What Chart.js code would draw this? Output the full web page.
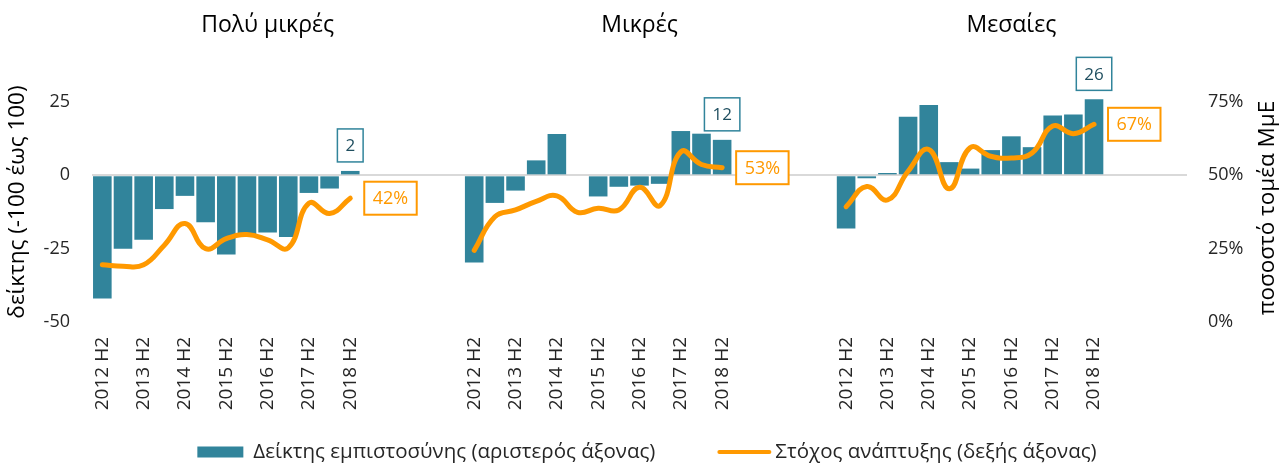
<!DOCTYPE html>
<html>
<head>
<meta charset="utf-8">
<script src="https://cdn.jsdelivr.net/npm/chart.js@4.4.0/dist/chart.umd.min.js"></script>
<style>
  body { margin: 0; background: #fff; }
  #wrap { width: 1282px; height: 465px; }
</style>
</head>
<body>
<div id="wrap"><canvas id="myChart" width="1282" height="465"></canvas></div>
<script>
const ctx = document.getElementById("myChart");

// data
const panelTitles = ["Πολύ μικρές", "Μικρές", "Μεσαίες"];
const periodLabels = [
    "2012 H2", "", "2013 H2", "", "2014 H2", "", "2015 H2",
    "", "2016 H2", "", "2017 H2", "", "2018 H2",
];
const gapAfter = [5, 5, 4];

const veryIndex = [-42, -25, -22, -11.5, -7, -16, -27, -20.5, -19.5, -21, -6, -4.5, 1.5];
const veryTarget = [19.5, 19, 19.5, 26.2, 33.6, 25, 28.4, 29.8, 28, 25.3, 40.5, 37, 42.2];
const smallIndex = [-29.7, -9.4, -5.2, 5.1, 14.1, 0, -7.2, -3.9, -3.5, -2.9, 15.1, 14.2, 12.1];
const smallTarget = [24.4, 35.9, 38.2, 41.1, 43, 37.4, 38.8, 38.2, 45.9, 39.7, 58, 53.7, 52.6];
const mediumIndex = [-18.1, -1, 0.8, 20, 24, 4.5, 2.3, 8.6, 13.3, 9.6, 20.4, 20.7, 25.9];
const mediumTarget = [39.3, 46.2, 41.6, 51.4, 58.8, 45.4, 59.4, 56.5, 55.9, 57.6, 66.8, 64.2, 67.4];

const leftTicks = [-50, -25, 0, 25];
const rightTicks = [0, 25, 50, 75];

const teal = "#31849B";
const orange = "#FF9900";
const textColor = "#262626";

// build the combined category axis with gaps between panels
const indexSets = [veryIndex, smallIndex, mediumIndex];
const targetSets = [veryTarget, smallTarget, mediumTarget];
const labels = [];
const barData = [];
const lineData = [];
const panelStarts = [];
indexSets.forEach((set, p) => {
    panelStarts.push(labels.length);
    set.forEach((v, i) => {
        labels.push(periodLabels[i]);
        barData.push(v);
        lineData.push(targetSets[p][i]);
    });
    for (let g = 0; g < gapAfter[p]; g++) {
        labels.push("");
        barData.push(null);
        lineData.push(null);
    }
});

Chart.defaults.font.family = "'Open Sans', sans-serif";
Chart.defaults.color = textColor;

const drawVertical = (c, text, x, y) => {
    c.save();
    c.translate(x, y);
    c.rotate(-Math.PI / 2);
    c.fillText(text, 0, 0);
    c.restore();
};

const extras = {
    id: "extras",
    afterDatasetsDraw(chart) {
        const c = chart.ctx;
        const xs = chart.scales.x;
        const area = chart.chartArea;
        const barMeta = chart.getDatasetMeta(0);
        const lineMeta = chart.getDatasetMeta(1);
        c.save();
        c.textAlign = "center";
        c.textBaseline = "middle";

        // panel titles
        c.fillStyle = "#000";
        c.font = "23px 'Open Sans'";
        panelStarts.forEach((start, p) => {
            c.fillText(panelTitles[p], xs.getPixelForValue(start + 8), 25);
        });

        // labels on the last value of each panel
        panelStarts.forEach((start) => {
            const last = start + 12;
            const bar = barMeta.data[last];
            const bt = String(Math.round(barData[last]));
            c.font = "17px 'Open Sans'";
            let w = c.measureText(bt).width + 16;
            const h = 33;
            let top = Math.min(bar.y, bar.base) - 9 - h;
            c.fillStyle = "#fff";
            c.fillRect(bar.x - w / 2, top, w, h);
            c.strokeStyle = teal;
            c.lineWidth = 1.5;
            c.strokeRect(bar.x - w / 2, top, w, h);
            c.fillStyle = "#1F4E5F";
            c.fillText(bt, bar.x, top + h / 2 + 1);

            const pt = lineMeta.data[last];
            const lt = Math.round(lineData[last]) + "%";
            c.font = "18px 'Open Sans'";
            w = c.measureText(lt).width + 17;
            const left = pt.x + 14;
            top = pt.y - h / 2;
            c.fillStyle = "#fff";
            c.fillRect(left, top, w, h);
            c.strokeStyle = orange;
            c.lineWidth = 2;
            c.strokeRect(left, top, w, h);
            c.fillStyle = orange;
            c.fillText(lt, left + w / 2, pt.y + 1);
        });

        // axis titles, both reading upwards
        const mid = (area.top + area.bottom) / 2;
        c.font = "22.5px 'Open Sans'";
        c.fillStyle = "#000";
        drawVertical(c, "δείκτης (-100 έως 100)", 18, mid + 12);
        drawVertical(c, "ποσοστό τομέα ΜμΕ", chart.scales.y1.right - 14, mid + 18);

        // legend
        const ds = chart.data.datasets;
        c.font = "20.5px 'Open Sans'";
        c.textAlign = "left";
        const w1 = c.measureText(ds[0].label).width;
        const w2 = c.measureText(ds[1].label).width;
        const total = 46 + 10 + w1 + 62 + 54 + 4 + w2;
        let lx = chart.width / 2 + 6 - total / 2;
        const ly = 452;
        c.fillStyle = teal;
        c.fillRect(lx, ly - 5.5, 46, 11);
        lx += 46 + 10;
        c.fillStyle = textColor;
        c.fillText(ds[0].label, lx, ly);
        lx += w1 + 62;
        c.strokeStyle = orange;
        c.lineWidth = 4;
        c.lineCap = "round";
        c.beginPath();
        c.moveTo(lx + 2, ly);
        c.lineTo(lx + 52, ly);
        c.stroke();
        lx += 54 + 4;
        c.fillText(ds[1].label, lx, ly);
        c.restore();
    },
};

new Chart(ctx, {
    type: "bar",
    data: {
        labels: labels,
        datasets: [
            {
                label: "Δείκτης εμπιστοσύνης (αριστερός άξονας)",
                data: barData,
                backgroundColor: teal,
                barPercentage: 0.9,
                categoryPercentage: 1,
                yAxisID: "y",
                order: 1,
            },
            {
                type: "line",
                label: "Στόχος ανάπτυξης (δεξής άξονας)",
                data: lineData,
                borderColor: orange,
                borderWidth: 5,
                borderCapStyle: "round",
                tension: 0.45,
                pointRadius: 0,
                spanGaps: false,
                yAxisID: "y1",
                order: 0,
            },
        ],
    },
    options: {
        responsive: false,
        animation: false,
        layout: { padding: { top: 58, bottom: 51, left: 0, right: 0 } },
        plugins: {
            tooltip: { enabled: false },
            legend: { display: false },
        },
        scales: {
            x: {
                grid: { display: false, drawTicks: false },
                border: { display: false },
                ticks: {
                    autoSkip: false,
                    minRotation: 90,
                    maxRotation: 90,
                    padding: 15,
                    color: textColor,
                    font: { size: 19 },
                },
                afterFit: (scale) => { scale.height = 92; },
            },
            y: {
                position: "left",
                min: -50,
                max: 40,
                afterBuildTicks: (scale) => {
                    scale.ticks = leftTicks.map((v) => ({ value: v }));
                },
                grid: {
                    drawTicks: false,
                    lineWidth: 2,
                    color: (c) => (c.tick && c.tick.value === 0 ? "#D9D9D9" : "rgba(0,0,0,0)"),
                },
                border: { display: false },
                ticks: { padding: 22, color: textColor, font: { size: 18 } },
                afterFit: (scale) => { scale.width = 92; },
            },
            y1: {
                position: "right",
                min: 0,
                max: 90,
                afterBuildTicks: (scale) => {
                    scale.ticks = rightTicks.map((v) => ({ value: v }));
                },
                grid: { display: false, drawTicks: false },
                border: { display: false },
                ticks: {
                    padding: 21,
                    color: textColor,
                    font: { size: 18 },
                    callback: (v) => v + "%",
                },
                afterFit: (scale) => { scale.width = 95; },
            },
        },
    },
    plugins: [extras],
});
</script>
</body>
</html>
